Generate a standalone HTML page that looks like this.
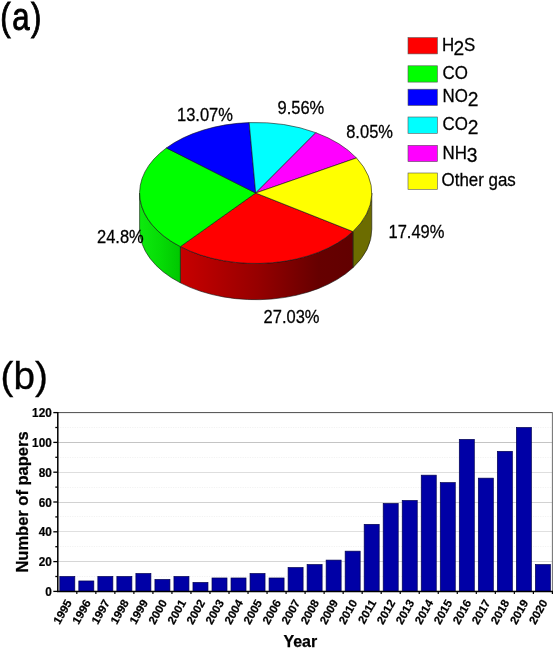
<!DOCTYPE html>
<html><head><meta charset="utf-8"><title>Figure</title>
<style>html,body{margin:0;padding:0;background:#fff}svg{display:block}text{font-family:"Liberation Sans",sans-serif;fill:#000}.b{font-weight:bold}</style></head><body>
<svg width="556" height="650" viewBox="0 0 556 650">
<rect width="556" height="650" fill="#fff"/>
<defs>
<linearGradient id="gr" gradientUnits="userSpaceOnUse" x1="180" y1="0" x2="353" y2="0"><stop offset="0" stop-color="#c80000"/><stop offset="0.45" stop-color="#960000"/><stop offset="0.8" stop-color="#660000"/><stop offset="1" stop-color="#620000"/></linearGradient>
<linearGradient id="gg" gradientUnits="userSpaceOnUse" x1="139" y1="0" x2="181" y2="0"><stop offset="0" stop-color="#0eea0e"/><stop offset="0.5" stop-color="#06dc06"/><stop offset="1" stop-color="#00c600"/></linearGradient>
</defs>
<path d="M371.80,193.00 A116.1,70.5 0 0 1 352.90,231.55 L352.90,267.75 A116.1,70.5 0 0 0 371.80,229.20 Z" fill="#6c6c00" stroke="#141414" stroke-width="0.6" stroke-linejoin="round"/>
<path d="M352.90,231.55 A116.1,70.5 0 0 1 180.36,246.64 L180.36,282.84 A116.1,70.5 0 0 0 352.90,267.75 Z" fill="url(#gr)" stroke="#141414" stroke-width="0.6" stroke-linejoin="round"/>
<path d="M180.36,246.64 A116.1,70.5 0 0 1 139.60,193.00 L139.60,229.20 A116.1,70.5 0 0 0 180.36,282.84 Z" fill="url(#gg)" stroke="#141414" stroke-width="0.6" stroke-linejoin="round"/>
<path d="M255.7,193.0 L352.90,231.55 A116.1,70.5 0 0 1 180.36,246.64 Z" fill="#ff0000" stroke="#141414" stroke-width="0.6" stroke-linejoin="round"/>
<path d="M255.7,193.0 L180.36,246.64 A116.1,70.5 0 0 1 166.42,147.93 Z" fill="#00ff00" stroke="#141414" stroke-width="0.6" stroke-linejoin="round"/>
<path d="M255.7,193.0 L166.42,147.93 A116.1,70.5 0 0 1 249.20,122.61 Z" fill="#0000ff" stroke="#141414" stroke-width="0.6" stroke-linejoin="round"/>
<path d="M255.7,193.0 L249.20,122.61 A116.1,70.5 0 0 1 315.85,132.70 Z" fill="#00ffff" stroke="#141414" stroke-width="0.6" stroke-linejoin="round"/>
<path d="M255.7,193.0 L315.85,132.70 A116.1,70.5 0 0 1 356.43,157.95 Z" fill="#ff00ff" stroke="#141414" stroke-width="0.6" stroke-linejoin="round"/>
<path d="M255.7,193.0 L356.43,157.95 A116.1,70.5 0 0 1 352.90,231.55 Z" fill="#ffff00" stroke="#141414" stroke-width="0.6" stroke-linejoin="round"/>
<text transform="translate(177.0,120.7) scale(1,1.07)" font-size="16.5" stroke="#000" stroke-width="0.25">13.07%</text>
<text transform="translate(277.5,114.0) scale(1,1.07)" font-size="16.5" stroke="#000" stroke-width="0.25">9.56%</text>
<text transform="translate(346.2,138.4) scale(1,1.07)" font-size="16.5" stroke="#000" stroke-width="0.25">8.05%</text>
<text transform="translate(388.5,238.0) scale(1,1.07)" font-size="16.5" stroke="#000" stroke-width="0.25">17.49%</text>
<text transform="translate(263.6,323.0) scale(1,1.07)" font-size="16.5" stroke="#000" stroke-width="0.25">27.03%</text>
<text transform="translate(97.0,243.2) scale(1,1.07)" font-size="16.5" stroke="#000" stroke-width="0.25">24.8%</text>
<rect x="408" y="37.6" width="29.4" height="16.3" fill="#ff0000" stroke="#555" stroke-width="0.6"/>
<text transform="translate(442.0,50.80) scale(1,1.06)" font-size="16.9" stroke="#000" stroke-width="0.25">H</text>
<text transform="translate(453.60,54.55) scale(1,1.06)" font-size="19.2" stroke="#000" stroke-width="0.25">2</text>
<text transform="translate(463.9,50.80) scale(1,1.06)" font-size="16.9" stroke="#000" stroke-width="0.25">S</text>
<rect x="408" y="65.8" width="29.4" height="16.3" fill="#00ff00" stroke="#555" stroke-width="0.6"/>
<text transform="translate(442.5,79.00) scale(1,1.06)" font-size="16.9" stroke="#000" stroke-width="0.25">CO</text>
<rect x="408" y="89.2" width="29.4" height="16.3" fill="#0000ff" stroke="#555" stroke-width="0.6"/>
<text transform="translate(442.5,102.40) scale(1,1.06)" font-size="16.9" stroke="#000" stroke-width="0.25">NO</text>
<text transform="translate(467.75,106.15) scale(1,1.06)" font-size="19.2" stroke="#000" stroke-width="0.25">2</text>
<rect x="408" y="117.0" width="29.4" height="16.3" fill="#00ffff" stroke="#555" stroke-width="0.6"/>
<text transform="translate(442.5,130.20) scale(1,1.06)" font-size="16.9" stroke="#000" stroke-width="0.25">CO</text>
<text transform="translate(467.75,133.95) scale(1,1.06)" font-size="19.2" stroke="#000" stroke-width="0.25">2</text>
<rect x="408" y="145.3" width="29.4" height="16.3" fill="#ff00ff" stroke="#555" stroke-width="0.6"/>
<text transform="translate(442.5,158.50) scale(1,1.06)" font-size="16.9" stroke="#000" stroke-width="0.25">NH</text>
<text transform="translate(466.80,162.25) scale(1,1.06)" font-size="19.2" stroke="#000" stroke-width="0.25">3</text>
<rect x="408" y="173.0" width="29.4" height="16.3" fill="#ffff00" stroke="#555" stroke-width="0.6"/>
<text transform="translate(441.6,186.20) scale(1,1.06)" font-size="16.9" stroke="#000" stroke-width="0.25">Other gas</text>
<text transform="translate(0.3,29.5) scale(0.79,0.985)" font-size="39.5" letter-spacing="1.9" stroke="#000" stroke-width="0.95">(a)</text>
<text x="0.5" y="389" font-size="38.7" stroke="#000" stroke-width="0.35">(b)</text>
<line x1="57.8" y1="576.50" x2="552.4" y2="576.50" stroke="#f2f2f2" stroke-width="1" stroke-dasharray="1.2 1.2"/>
<line x1="57.8" y1="561.50" x2="552.4" y2="561.50" stroke="#d6d6d6" stroke-width="1"/>
<line x1="57.8" y1="546.50" x2="552.4" y2="546.50" stroke="#f2f2f2" stroke-width="1" stroke-dasharray="1.2 1.2"/>
<line x1="57.8" y1="531.50" x2="552.4" y2="531.50" stroke="#e0e0e0" stroke-width="1"/>
<line x1="57.8" y1="516.50" x2="552.4" y2="516.50" stroke="#f2f2f2" stroke-width="1" stroke-dasharray="1.2 1.2"/>
<line x1="57.8" y1="502.50" x2="552.4" y2="502.50" stroke="#d2d2d2" stroke-width="1"/>
<line x1="57.8" y1="487.50" x2="552.4" y2="487.50" stroke="#f2f2f2" stroke-width="1" stroke-dasharray="1.2 1.2"/>
<line x1="57.8" y1="472.50" x2="552.4" y2="472.50" stroke="#dedede" stroke-width="1"/>
<line x1="57.8" y1="457.50" x2="552.4" y2="457.50" stroke="#f2f2f2" stroke-width="1" stroke-dasharray="1.2 1.2"/>
<line x1="57.8" y1="442.50" x2="552.4" y2="442.50" stroke="#c4c4c4" stroke-width="1"/>
<line x1="57.8" y1="427.50" x2="552.4" y2="427.50" stroke="#f2f2f2" stroke-width="1" stroke-dasharray="1.2 1.2"/>
<rect x="59.81" y="576.50" width="15.0" height="14.90" fill="#0000a6" stroke="#000050" stroke-width="0.7"/>
<rect x="78.83" y="580.97" width="15.0" height="10.43" fill="#0000a6" stroke="#000050" stroke-width="0.7"/>
<rect x="97.86" y="576.50" width="15.0" height="14.90" fill="#0000a6" stroke="#000050" stroke-width="0.7"/>
<rect x="116.88" y="576.50" width="15.0" height="14.90" fill="#0000a6" stroke="#000050" stroke-width="0.7"/>
<rect x="135.90" y="573.52" width="15.0" height="17.88" fill="#0000a6" stroke="#000050" stroke-width="0.7"/>
<rect x="154.93" y="579.48" width="15.0" height="11.92" fill="#0000a6" stroke="#000050" stroke-width="0.7"/>
<rect x="173.95" y="576.50" width="15.0" height="14.90" fill="#0000a6" stroke="#000050" stroke-width="0.7"/>
<rect x="192.97" y="582.46" width="15.0" height="8.94" fill="#0000a6" stroke="#000050" stroke-width="0.7"/>
<rect x="212.00" y="577.99" width="15.0" height="13.41" fill="#0000a6" stroke="#000050" stroke-width="0.7"/>
<rect x="231.02" y="577.99" width="15.0" height="13.41" fill="#0000a6" stroke="#000050" stroke-width="0.7"/>
<rect x="250.04" y="573.52" width="15.0" height="17.88" fill="#0000a6" stroke="#000050" stroke-width="0.7"/>
<rect x="269.07" y="577.99" width="15.0" height="13.41" fill="#0000a6" stroke="#000050" stroke-width="0.7"/>
<rect x="288.09" y="567.56" width="15.0" height="23.84" fill="#0000a6" stroke="#000050" stroke-width="0.7"/>
<rect x="307.11" y="564.58" width="15.0" height="26.82" fill="#0000a6" stroke="#000050" stroke-width="0.7"/>
<rect x="326.13" y="560.11" width="15.0" height="31.29" fill="#0000a6" stroke="#000050" stroke-width="0.7"/>
<rect x="345.16" y="551.17" width="15.0" height="40.23" fill="#0000a6" stroke="#000050" stroke-width="0.7"/>
<rect x="364.18" y="524.35" width="15.0" height="67.05" fill="#0000a6" stroke="#000050" stroke-width="0.7"/>
<rect x="383.20" y="503.49" width="15.0" height="87.91" fill="#0000a6" stroke="#000050" stroke-width="0.7"/>
<rect x="402.23" y="500.51" width="15.0" height="90.89" fill="#0000a6" stroke="#000050" stroke-width="0.7"/>
<rect x="421.25" y="475.18" width="15.0" height="116.22" fill="#0000a6" stroke="#000050" stroke-width="0.7"/>
<rect x="440.27" y="482.63" width="15.0" height="108.77" fill="#0000a6" stroke="#000050" stroke-width="0.7"/>
<rect x="459.30" y="439.42" width="15.0" height="151.98" fill="#0000a6" stroke="#000050" stroke-width="0.7"/>
<rect x="478.32" y="478.16" width="15.0" height="113.24" fill="#0000a6" stroke="#000050" stroke-width="0.7"/>
<rect x="497.34" y="451.34" width="15.0" height="140.06" fill="#0000a6" stroke="#000050" stroke-width="0.7"/>
<rect x="516.37" y="427.50" width="15.0" height="163.90" fill="#0000a6" stroke="#000050" stroke-width="0.7"/>
<rect x="535.39" y="564.58" width="15.0" height="26.82" fill="#0000a6" stroke="#000050" stroke-width="0.7"/>
<path d="M57.8,412.6 H552.4" fill="none" stroke="#4c4c4c" stroke-width="1"/>
<path d="M552.4,412.20000000000005 V591.4" fill="none" stroke="#5c5c5c" stroke-width="0.9"/>
<path d="M57.8,412.1 V591.4 H552.9" fill="none" stroke="#000" stroke-width="1.5"/>
<line x1="53.3" y1="591.40" x2="57.8" y2="591.40" stroke="#000" stroke-width="1.3"/>
<text class="b" transform="translate(51.8,595.90) scale(1,1.16)" font-size="11.8" stroke="#000" stroke-width="0.2" text-anchor="end">0</text>
<line x1="55.3" y1="576.50" x2="57.8" y2="576.50" stroke="#000" stroke-width="1.3"/>
<line x1="53.3" y1="561.60" x2="57.8" y2="561.60" stroke="#000" stroke-width="1.3"/>
<text class="b" transform="translate(51.8,566.10) scale(1,1.16)" font-size="11.8" stroke="#000" stroke-width="0.2" text-anchor="end">20</text>
<line x1="55.3" y1="546.70" x2="57.8" y2="546.70" stroke="#000" stroke-width="1.3"/>
<line x1="53.3" y1="531.80" x2="57.8" y2="531.80" stroke="#000" stroke-width="1.3"/>
<text class="b" transform="translate(51.8,536.30) scale(1,1.16)" font-size="11.8" stroke="#000" stroke-width="0.2" text-anchor="end">40</text>
<line x1="55.3" y1="516.90" x2="57.8" y2="516.90" stroke="#000" stroke-width="1.3"/>
<line x1="53.3" y1="502.00" x2="57.8" y2="502.00" stroke="#000" stroke-width="1.3"/>
<text class="b" transform="translate(51.8,506.50) scale(1,1.16)" font-size="11.8" stroke="#000" stroke-width="0.2" text-anchor="end">60</text>
<line x1="55.3" y1="487.10" x2="57.8" y2="487.10" stroke="#000" stroke-width="1.3"/>
<line x1="53.3" y1="472.20" x2="57.8" y2="472.20" stroke="#000" stroke-width="1.3"/>
<text class="b" transform="translate(51.8,476.70) scale(1,1.16)" font-size="11.8" stroke="#000" stroke-width="0.2" text-anchor="end">80</text>
<line x1="55.3" y1="457.30" x2="57.8" y2="457.30" stroke="#000" stroke-width="1.3"/>
<line x1="53.3" y1="442.40" x2="57.8" y2="442.40" stroke="#000" stroke-width="1.3"/>
<text class="b" transform="translate(51.8,446.90) scale(1,1.16)" font-size="11.8" stroke="#000" stroke-width="0.2" text-anchor="end">100</text>
<line x1="55.3" y1="427.50" x2="57.8" y2="427.50" stroke="#000" stroke-width="1.3"/>
<line x1="53.3" y1="412.60" x2="57.8" y2="412.60" stroke="#000" stroke-width="1.3"/>
<text class="b" transform="translate(51.8,417.10) scale(1,1.16)" font-size="11.8" stroke="#000" stroke-width="0.2" text-anchor="end">120</text>
<line x1="76.82" y1="591.4" x2="76.82" y2="594.0" stroke="#000" stroke-width="1.2"/>
<text class="b" transform="translate(72.21,602.40) scale(1,1.05) rotate(-60)" font-size="11.35" stroke="#000" stroke-width="0.2" text-anchor="end">1995</text>
<line x1="95.85" y1="591.4" x2="95.85" y2="594.0" stroke="#000" stroke-width="1.2"/>
<text class="b" transform="translate(91.23,602.40) scale(1,1.05) rotate(-60)" font-size="11.35" stroke="#000" stroke-width="0.2" text-anchor="end">1996</text>
<line x1="114.87" y1="591.4" x2="114.87" y2="594.0" stroke="#000" stroke-width="1.2"/>
<text class="b" transform="translate(110.26,602.40) scale(1,1.05) rotate(-60)" font-size="11.35" stroke="#000" stroke-width="0.2" text-anchor="end">1997</text>
<line x1="133.89" y1="591.4" x2="133.89" y2="594.0" stroke="#000" stroke-width="1.2"/>
<text class="b" transform="translate(129.28,602.40) scale(1,1.05) rotate(-60)" font-size="11.35" stroke="#000" stroke-width="0.2" text-anchor="end">1998</text>
<line x1="152.92" y1="591.4" x2="152.92" y2="594.0" stroke="#000" stroke-width="1.2"/>
<text class="b" transform="translate(148.30,602.40) scale(1,1.05) rotate(-60)" font-size="11.35" stroke="#000" stroke-width="0.2" text-anchor="end">1999</text>
<line x1="171.94" y1="591.4" x2="171.94" y2="594.0" stroke="#000" stroke-width="1.2"/>
<text class="b" transform="translate(167.33,602.40) scale(1,1.05) rotate(-60)" font-size="11.35" stroke="#000" stroke-width="0.2" text-anchor="end">2000</text>
<line x1="190.96" y1="591.4" x2="190.96" y2="594.0" stroke="#000" stroke-width="1.2"/>
<text class="b" transform="translate(186.35,602.40) scale(1,1.05) rotate(-60)" font-size="11.35" stroke="#000" stroke-width="0.2" text-anchor="end">2001</text>
<line x1="209.98" y1="591.4" x2="209.98" y2="594.0" stroke="#000" stroke-width="1.2"/>
<text class="b" transform="translate(205.37,602.40) scale(1,1.05) rotate(-60)" font-size="11.35" stroke="#000" stroke-width="0.2" text-anchor="end">2002</text>
<line x1="229.01" y1="591.4" x2="229.01" y2="594.0" stroke="#000" stroke-width="1.2"/>
<text class="b" transform="translate(224.40,602.40) scale(1,1.05) rotate(-60)" font-size="11.35" stroke="#000" stroke-width="0.2" text-anchor="end">2003</text>
<line x1="248.03" y1="591.4" x2="248.03" y2="594.0" stroke="#000" stroke-width="1.2"/>
<text class="b" transform="translate(243.42,602.40) scale(1,1.05) rotate(-60)" font-size="11.35" stroke="#000" stroke-width="0.2" text-anchor="end">2004</text>
<line x1="267.05" y1="591.4" x2="267.05" y2="594.0" stroke="#000" stroke-width="1.2"/>
<text class="b" transform="translate(262.44,602.40) scale(1,1.05) rotate(-60)" font-size="11.35" stroke="#000" stroke-width="0.2" text-anchor="end">2005</text>
<line x1="286.08" y1="591.4" x2="286.08" y2="594.0" stroke="#000" stroke-width="1.2"/>
<text class="b" transform="translate(281.47,602.40) scale(1,1.05) rotate(-60)" font-size="11.35" stroke="#000" stroke-width="0.2" text-anchor="end">2006</text>
<line x1="305.10" y1="591.4" x2="305.10" y2="594.0" stroke="#000" stroke-width="1.2"/>
<text class="b" transform="translate(300.49,602.40) scale(1,1.05) rotate(-60)" font-size="11.35" stroke="#000" stroke-width="0.2" text-anchor="end">2007</text>
<line x1="324.12" y1="591.4" x2="324.12" y2="594.0" stroke="#000" stroke-width="1.2"/>
<text class="b" transform="translate(319.51,602.40) scale(1,1.05) rotate(-60)" font-size="11.35" stroke="#000" stroke-width="0.2" text-anchor="end">2008</text>
<line x1="343.15" y1="591.4" x2="343.15" y2="594.0" stroke="#000" stroke-width="1.2"/>
<text class="b" transform="translate(338.53,602.40) scale(1,1.05) rotate(-60)" font-size="11.35" stroke="#000" stroke-width="0.2" text-anchor="end">2009</text>
<line x1="362.17" y1="591.4" x2="362.17" y2="594.0" stroke="#000" stroke-width="1.2"/>
<text class="b" transform="translate(357.56,602.40) scale(1,1.05) rotate(-60)" font-size="11.35" stroke="#000" stroke-width="0.2" text-anchor="end">2010</text>
<line x1="381.19" y1="591.4" x2="381.19" y2="594.0" stroke="#000" stroke-width="1.2"/>
<text class="b" transform="translate(376.58,602.40) scale(1,1.05) rotate(-60)" font-size="11.35" stroke="#000" stroke-width="0.2" text-anchor="end">2011</text>
<line x1="400.22" y1="591.4" x2="400.22" y2="594.0" stroke="#000" stroke-width="1.2"/>
<text class="b" transform="translate(395.60,602.40) scale(1,1.05) rotate(-60)" font-size="11.35" stroke="#000" stroke-width="0.2" text-anchor="end">2012</text>
<line x1="419.24" y1="591.4" x2="419.24" y2="594.0" stroke="#000" stroke-width="1.2"/>
<text class="b" transform="translate(414.63,602.40) scale(1,1.05) rotate(-60)" font-size="11.35" stroke="#000" stroke-width="0.2" text-anchor="end">2013</text>
<line x1="438.26" y1="591.4" x2="438.26" y2="594.0" stroke="#000" stroke-width="1.2"/>
<text class="b" transform="translate(433.65,602.40) scale(1,1.05) rotate(-60)" font-size="11.35" stroke="#000" stroke-width="0.2" text-anchor="end">2014</text>
<line x1="457.28" y1="591.4" x2="457.28" y2="594.0" stroke="#000" stroke-width="1.2"/>
<text class="b" transform="translate(452.67,602.40) scale(1,1.05) rotate(-60)" font-size="11.35" stroke="#000" stroke-width="0.2" text-anchor="end">2015</text>
<line x1="476.31" y1="591.4" x2="476.31" y2="594.0" stroke="#000" stroke-width="1.2"/>
<text class="b" transform="translate(471.70,602.40) scale(1,1.05) rotate(-60)" font-size="11.35" stroke="#000" stroke-width="0.2" text-anchor="end">2016</text>
<line x1="495.33" y1="591.4" x2="495.33" y2="594.0" stroke="#000" stroke-width="1.2"/>
<text class="b" transform="translate(490.72,602.40) scale(1,1.05) rotate(-60)" font-size="11.35" stroke="#000" stroke-width="0.2" text-anchor="end">2017</text>
<line x1="514.35" y1="591.4" x2="514.35" y2="594.0" stroke="#000" stroke-width="1.2"/>
<text class="b" transform="translate(509.74,602.40) scale(1,1.05) rotate(-60)" font-size="11.35" stroke="#000" stroke-width="0.2" text-anchor="end">2018</text>
<line x1="533.38" y1="591.4" x2="533.38" y2="594.0" stroke="#000" stroke-width="1.2"/>
<text class="b" transform="translate(528.77,602.40) scale(1,1.05) rotate(-60)" font-size="11.35" stroke="#000" stroke-width="0.2" text-anchor="end">2019</text>
<line x1="552.40" y1="591.4" x2="552.40" y2="594.0" stroke="#000" stroke-width="1.2"/>
<text class="b" transform="translate(547.79,602.40) scale(1,1.05) rotate(-60)" font-size="11.35" stroke="#000" stroke-width="0.2" text-anchor="end">2020</text>
<text class="b" transform="translate(27.8,502.0) rotate(-90)" font-size="16.5" stroke="#000" stroke-width="0.25" text-anchor="middle">Number of papers</text>
<text class="b" x="300.3" y="646.8" font-size="16" stroke="#000" stroke-width="0.25" text-anchor="middle">Year</text>
</svg></body></html>
